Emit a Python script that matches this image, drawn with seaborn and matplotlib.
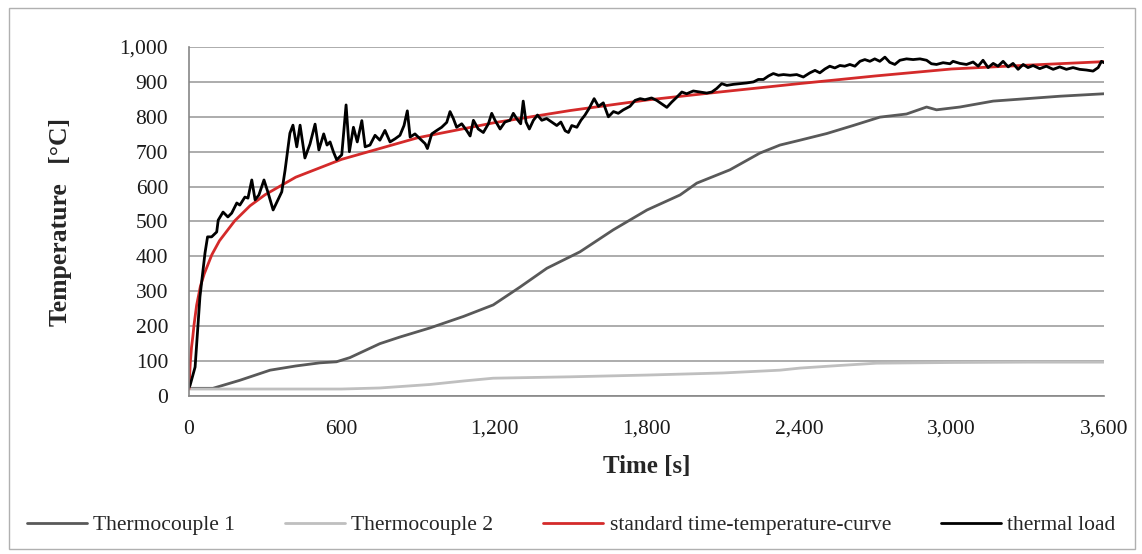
import matplotlib
matplotlib.use("Agg")
import matplotlib.pyplot as plt
from matplotlib.ticker import MultipleLocator, FuncFormatter
from matplotlib.patches import Rectangle
import seaborn as sns
import pandas as pd

# ---- data -------------------------------------------------------------
tc1_time = [0, 94, 200, 319, 420, 515, 580, 633, 751, 830, 948, 1080, 1197, 1302,
            1408, 1538, 1669, 1802, 1932, 1998, 2128, 2246, 2325, 2404, 2509, 2613,
            2718, 2823, 2902, 2941, 3033, 3164, 3296, 3427, 3600]
tc1_temp = [22, 22, 45, 74, 86, 95, 98, 110, 150, 169, 195, 228, 261, 312,
            366, 413, 476, 533, 576, 610, 648, 696, 719, 733, 752, 775,
            799, 808, 828, 820, 828, 845, 852, 859, 866]

tc2_time = [0, 300, 600, 751, 830, 948, 1080, 1197, 1500, 1802, 2100, 2325, 2404,
            2550, 2705, 3000, 3300, 3600]
tc2_temp = [20, 20, 20, 23, 27, 33, 43, 51, 55, 60, 66, 74, 80,
            87, 94, 96, 97, 97]

std_time = [0, 5, 10, 15, 20, 30, 45, 60, 90, 120, 180, 240, 300, 420, 600, 900,
            1200, 1500, 1800, 2100, 2400, 2700, 3000, 3300, 3600]
std_temp = [20, 95, 140, 170, 205, 260, 315, 350, 405, 445, 502, 545, 577, 627, 678, 740,
            783, 818, 848, 872, 895, 917, 937, 948, 958]

load_time = [0, 4, 24, 43, 63, 73, 89, 109, 115, 134, 153, 168, 188, 200, 220, 232,
             247, 260, 275, 295, 310, 331, 350, 365, 378, 397, 409, 424, 437, 456,
             476, 496, 511, 530, 543, 555, 568, 581, 601, 618, 631, 647, 662, 680,
             693, 712, 732, 751, 771, 791, 811, 830, 846, 859, 870, 889, 909, 929,
             938, 955, 975, 994, 1014, 1027, 1040, 1053, 1073, 1093, 1106, 1119,
             1138, 1158, 1178, 1191, 1204, 1224, 1243, 1263, 1276, 1289, 1305, 1315,
             1326, 1339, 1355, 1371, 1388, 1407, 1427, 1447, 1463, 1480, 1493, 1506,
             1526, 1542, 1558, 1575, 1594, 1611, 1630, 1650, 1670, 1689, 1709, 1735,
             1755, 1775, 1794, 1820, 1840, 1860, 1880, 1899, 1919, 1939, 1958, 1984,
             2011, 2037, 2057, 2076, 2096, 2116, 2142, 2168, 2194, 2221, 2240, 2260,
             2280, 2299, 2319, 2339, 2365, 2391, 2417, 2443, 2463, 2482, 2502, 2521,
             2541, 2561, 2580, 2600, 2620, 2640, 2659, 2679, 2698, 2718, 2738, 2757,
             2777, 2797, 2823, 2849, 2876, 2902, 2921, 2941, 2967, 2994, 3006, 3033,
             3059, 3085, 3105, 3124, 3144, 3164, 3183, 3203, 3223, 3242, 3262, 3282,
             3301, 3321, 3347, 3373, 3400, 3426, 3452, 3478, 3504, 3531, 3557, 3577,
             3590, 3600]
load_temp = [25, 30, 83, 284, 410, 456, 456, 470, 504, 527, 513, 524, 553, 547, 570, 567,
             619, 562, 576, 619, 585, 533, 562, 585, 647, 753, 776, 714, 776, 682,
             722, 779, 705, 751, 719, 728, 700, 677, 691, 834, 700, 770, 728, 789,
             714, 719, 747, 733, 761, 728, 737, 747, 775, 817, 742, 751, 737, 723,
             709, 751, 761, 770, 784, 815, 795, 770, 780, 760, 745, 790,
             765, 755, 780, 810, 790, 765, 785, 790, 810, 795, 780, 845,
             785, 765, 790, 805, 790, 795, 785, 775, 785, 760, 755, 775,
             770, 790, 805, 825, 852, 830, 840, 800, 815, 810, 820, 830,
             847, 852, 849, 854, 847, 837, 827, 842, 856, 871, 866, 874,
             871, 868, 871, 881, 895, 890, 893, 895, 897, 900, 907, 907,
             917, 924, 919, 921, 919, 921, 914, 926, 933, 926, 937, 945,
             940, 947, 945, 950, 945, 959, 964, 959, 966, 959, 971, 956,
             950, 962, 966, 964, 966, 962, 952, 950, 955, 952, 959, 953,
             950, 957, 945, 962, 941, 953, 945, 959, 943, 953, 936, 950,
             941, 947, 938, 945, 936, 943, 936, 941, 936, 934, 931, 941,
             959, 955]

x_ticks = [0, 600, 1200, 1800, 2400, 3000, 3600]
y_ticks = list(range(0, 1001, 100))

series = [
    ("Thermocouple 1", tc1_time, tc1_temp, "#595959", 2.0),
    ("Thermocouple 2", tc2_time, tc2_temp, "#BFBFBF", 2.0),
    ("standard time-temperature-curve", std_time, std_temp, "#D42A2A", 2.0),
    ("thermal load", load_time, load_temp, "#000000", 2.0),
]

# ---- style ------------------------------------------------------------
sns.set_style("white")
plt.rcParams["font.family"] = ["Liberation Serif", "DejaVu Serif"]

fig = plt.figure(figsize=(11.42, 5.54), dpi=100)
ax = fig.add_axes([189 / 1142, 1 - 396 / 554, (1104 - 189) / 1142, (396 - 47) / 554])

for name, t, v, color, lw in series:
    df = pd.DataFrame({"t": t, "v": v})
    sns.lineplot(data=df, x="t", y="v", ax=ax, color=color, linewidth=lw,
                 label=name, estimator=None, sort=False)

ax.set_xlim(x_ticks[0], x_ticks[-1])
ax.set_ylim(y_ticks[0], y_ticks[-1])
ax.set_xticks(x_ticks)
ax.set_yticks(y_ticks)
ax.xaxis.set_minor_locator(MultipleLocator(60))
ax.yaxis.set_minor_locator(MultipleLocator(20))
fmt = FuncFormatter(lambda v, p: f"{int(v):,}")
ax.xaxis.set_major_formatter(fmt)
ax.yaxis.set_major_formatter(fmt)

ax.grid(axis="y", color="#A6A6A6", linewidth=1.3)
ax.grid(axis="x", visible=False)
ax.set_axisbelow(True)

for side in ("top", "right"):
    ax.spines[side].set_visible(False)
for side in ("left", "bottom"):
    ax.spines[side].set_color("#868686")
    ax.spines[side].set_linewidth(1.2)

ax.tick_params(axis="both", which="major", direction="out", length=7, width=1.2,
               color="#868686", labelsize=15.5, labelcolor="#1A1A1A", pad=8)
ax.tick_params(axis="both", which="minor", direction="out", length=5, width=1.0,
               color="#868686")
ax.tick_params(axis="x", which="major", pad=10)

ax.set_xlabel("Time [s]", fontsize=18, fontweight="bold", labelpad=12)
ax.set_ylabel("Temperature   [°C]", fontsize=18.5, fontweight="bold", labelpad=34)

ax.legend_.remove()
handles, labels = ax.get_legend_handles_labels()
fig.legend(handles, labels, loc="center", bbox_to_anchor=(0.5, 1 - 525 / 554),
           ncol=4, frameon=False, fontsize=15.5, handlelength=2.8,
           handletextpad=0.3, columnspacing=2.3)

# outer chart frame
fig.patches.append(Rectangle((9 / 1142, 5 / 554), 1126 / 1142, 541 / 554,
                             transform=fig.transFigure, fill=False,
                             edgecolor="#B0B0B0", linewidth=1.0))

fig.savefig("out.png", dpi=100)
